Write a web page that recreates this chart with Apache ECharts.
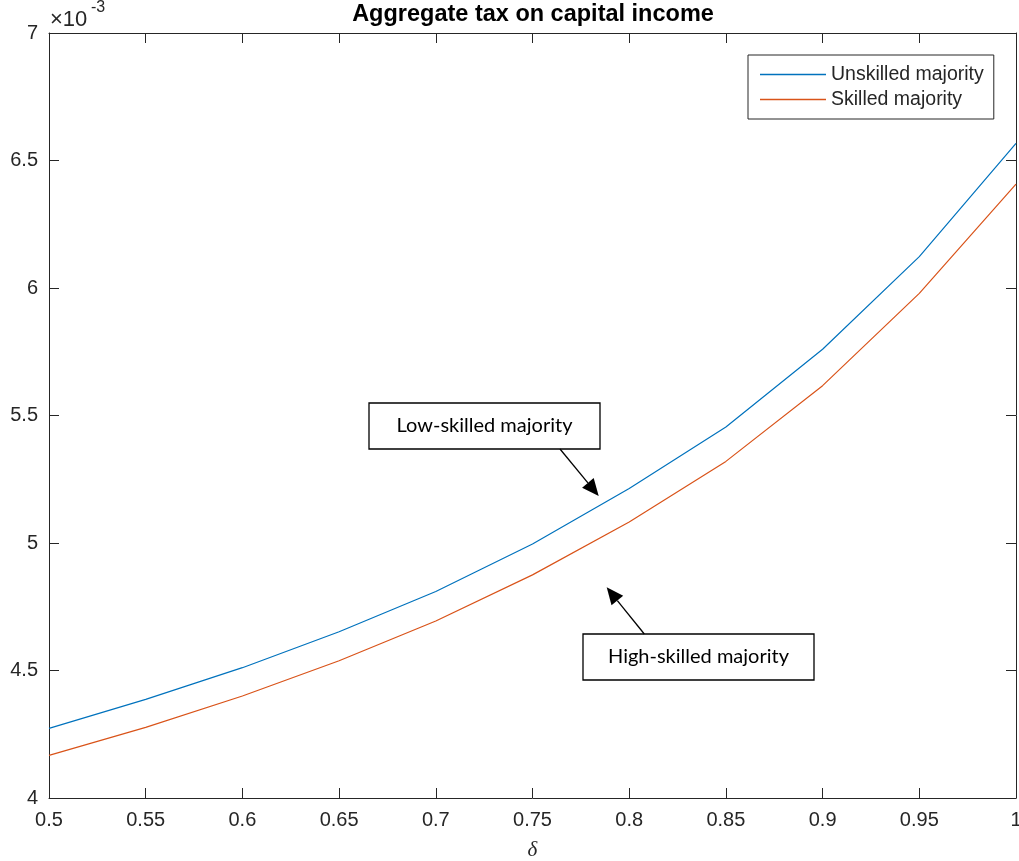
<!DOCTYPE html>
<html>
<head>
<meta charset="utf-8">
<script src="https://cdn.jsdelivr.net/npm/echarts@6/dist/echarts.min.js"></script>
<style>html,body{margin:0;padding:0;background:#fff}#c{width:1019px;height:861px}</style>
</head>
<body>
<div id="c"></div>
<script>
const delta = [0.5, 0.55, 0.6, 0.65, 0.7, 0.75, 0.8, 0.85, 0.9, 0.95, 1.0];
const unskilled = [0.004273, 0.004387, 0.004511, 0.004652, 0.004810, 0.004996, 0.005214, 0.005455, 0.005760, 0.006123, 0.006567];
const skilled   = [0.004167, 0.004277, 0.004400, 0.004538, 0.004694, 0.004875, 0.005082, 0.005320, 0.005617, 0.005979, 0.006407];
const seriesNames = ['Unskilled majority', 'Skilled majority'];
const titleText = 'Aggregate tax on capital income';
const xName = 'δ';
const annotations = ['Low-skilled majority', 'High-skilled majority'];

const AX = '#262626';
const SANS = '"Liberation Sans", Arial, sans-serif';
const chart = echarts.init(document.getElementById('c'), null, {renderer: 'canvas'});

function arrow(x1, y1, x2, y2) {
  const L = 17, W = 7.5;
  const dx = x2 - x1, dy = y2 - y1, len = Math.hypot(dx, dy);
  const ux = dx / len, uy = dy / len;
  const bx = x2 - ux * L, by = y2 - uy * L;
  return [
    {type: 'line', shape: {x1: x1, y1: y1, x2: bx, y2: by}, style: {stroke: '#000', lineWidth: 1.3}, z: 100},
    {type: 'polygon', shape: {points: [[x2, y2], [bx - uy * W, by + ux * W], [bx + uy * W, by - ux * W]]}, style: {fill: '#000'}, z: 100}
  ];
}
function box(x, y, w, h, text) {
  return [
    {type: 'rect', shape: {x: x, y: y, width: w, height: h}, style: {fill: '#fff', stroke: '#000', lineWidth: 1.3}, z: 100},
    {type: 'text', x: x + w / 2, y: y + h / 2, style: {text: text, fill: '#000', font: '20px Lato, "Open Sans", sans-serif', textAlign: 'center', textVerticalAlign: 'middle'}, z: 101}
  ];
}

const xAxisBase = {type: 'value', min: 0.5, max: 1, interval: 0.05,
  axisLine: {show: true, lineStyle: {color: AX, width: 1}},
  axisTick: {show: true, inside: true, length: 10, lineStyle: {color: AX}},
  splitLine: {show: false}};
const yAxisBase = {type: 'value', min: 0.004, max: 0.007, interval: 0.0005,
  axisLine: {show: true, lineStyle: {color: AX, width: 1}},
  axisTick: {show: true, inside: true, length: 10, lineStyle: {color: AX}},
  splitLine: {show: false}};

chart.setOption({
  animation: false,
  backgroundColor: '#fff',
  grid: {left: 49, right: 3, top: 33, bottom: 63, containLabel: false, outerBoundsMode: 'none'},
  legend: {
    orient: 'vertical', left: 748, top: 55,
    data: seriesNames.map(n => ({name: n, icon: 'rect'})),
    itemWidth: 66, itemHeight: 1.5, itemGap: 4,
    padding: [9, 10, 9, 12],
    borderColor: AX, borderWidth: 1, backgroundColor: '#fff',
    textStyle: {fontFamily: SANS, fontSize: 19.5, color: AX, lineHeight: 21}
  },
  xAxis: [
    Object.assign({}, xAxisBase, {position: 'bottom',
      axisLabel: {show: true, margin: 12, fontFamily: SANS, fontSize: 20, color: AX,
        formatter: v => String(+v.toFixed(2))},
      name: xName, nameLocation: 'middle', nameGap: 42,
      nameTextStyle: {fontFamily: '"Liberation Serif", "DejaVu Serif", serif', fontStyle: 'italic', fontSize: 21, color: AX}}),
    Object.assign({}, xAxisBase, {position: 'top', axisLabel: {show: false}})
  ],
  yAxis: [
    Object.assign({}, yAxisBase, {position: 'left',
      axisLabel: {show: true, margin: 11, fontFamily: SANS, fontSize: 20, color: AX,
        formatter: v => String(Math.round(v * 1e4) / 10)}}),
    Object.assign({}, yAxisBase, {position: 'right', axisLabel: {show: false}})
  ],
  series: [
    {name: seriesNames[0], type: 'line', xAxisIndex: 0, yAxisIndex: 0, symbol: 'none',
      color: '#0072BD', lineStyle: {width: 1.2, color: '#0072BD'},
      data: delta.map((d, i) => [d, unskilled[i]])},
    {name: seriesNames[1], type: 'line', xAxisIndex: 0, yAxisIndex: 0, symbol: 'none',
      color: '#D95319', lineStyle: {width: 1.2, color: '#D95319'},
      data: delta.map((d, i) => [d, skilled[i]])}
  ],
  graphic: [
    {type: 'text', x: 533, y: 3, style: {text: titleText, font: 'bold 23.5px ' + SANS, fill: '#000', textAlign: 'center'}},
    {type: 'text', x: 50, y: 9, style: {text: '×10', font: '22px ' + SANS, fill: AX}},
    {type: 'text', x: 91, y: 0, style: {text: '-3', font: '16px ' + SANS, fill: AX}},
    ...box(369, 403, 231, 46, annotations[0]),
    ...box(583, 634, 231, 46, annotations[1]),
    ...arrow(560, 449, 598.7, 496),
    ...arrow(644.3, 634, 606.7, 587.3)
  ]
});
</script>
</body>
</html>
